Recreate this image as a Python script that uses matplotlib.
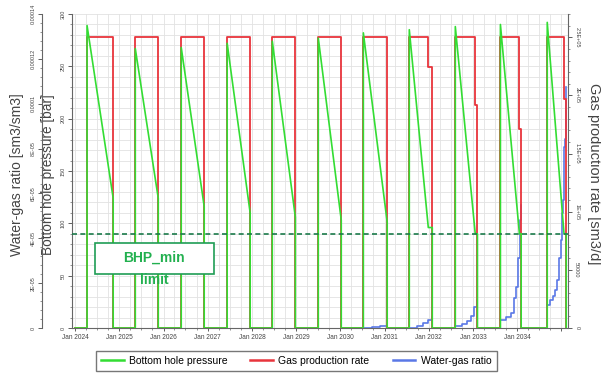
import matplotlib
matplotlib.use("Agg")
import matplotlib.pyplot as plt
import matplotlib.dates as mdates
from matplotlib.ticker import MultipleLocator, FuncFormatter
from matplotlib.patches import Rectangle
from datetime import datetime
import numpy as np

plt.rcParams['font.family'] = ['Liberation Sans', 'DejaVu Sans']

# production cycles (decimal years)
cycle_start = [2024.27, 2025.36, 2026.40, 2027.44, 2028.46, 2029.50, 2030.52, 2031.56, 2032.60, 2033.62, 2034.68]
cycle_end = [2024.86, 2025.88, 2026.92, 2027.96, 2028.98, 2030.02, 2031.06, 2032.08, 2033.10, 2034.09, 2035.11]
bhp_peak = [289, 267, 268, 272, 274, 277, 282, 285, 288, 290, 292]
bhp_end = [124, 124, 116, 110, 106, 103, 101, 96, 90, 90, 90]
rate_plateau = [250000] * 11
step_date = [None, None, None, None, None, None, None, 2031.99, 2033.05, 2034.05, 2035.06]
step_rate = [None, None, None, None, None, None, None, 224000, 192000, 171000, 197000]
bhp_min = 90

# water-gas ratio per cycle
wgr_t = [
    [2030.52, 2030.72, 2030.90, 2031.06],
    [2031.56, 2031.74, 2031.87, 2031.99, 2032.08],
    [2032.60, 2032.76, 2032.87, 2032.96, 2033.03, 2033.10],
    [2033.62, 2033.75, 2033.86, 2033.93, 2033.98, 2034.02, 2034.07, 2034.09],
    [2034.68, 2034.75, 2034.81, 2034.86, 2034.90, 2034.95, 2034.99, 2035.02, 2035.04, 2035.06, 2035.09, 2035.11],
]
wgr_v = [
    [0, 0.3e-6, 0.8e-6, 1.3e-6],
    [0.2e-6, 1.0e-6, 2.2e-6, 3.6e-6, 4.9e-6],
    [0.9e-6, 1.8e-6, 3.1e-6, 5.4e-6, 9.4e-6, 12.5e-6],
    [3.6e-6, 4.9e-6, 6.7e-6, 13.4e-6, 18.3e-6, 31.3e-6, 48.3e-6, 55.0e-6],
    [10.3e-6, 12.5e-6, 14.3e-6, 17.0e-6, 21.5e-6, 31.3e-6, 39.4e-6, 51.4e-6, 57.2e-6, 80.9e-6, 84.1e-6, 107.3e-6],
]
last_labelled_year = 2034


def to_date(y):
    yr = int(y)
    a, b = datetime(yr, 1, 1), datetime(yr + 1, 1, 1)
    return a + (b - a) * (y - yr)


# build step series
t_bhp, v_bhp = [2024.0], [0]
t_rate, v_rate = [2024.0], [0]
for i in range(len(cycle_start)):
    s, e = cycle_start[i], cycle_end[i]
    d = step_date[i] if step_date[i] else e
    r2 = step_rate[i] if step_rate[i] else rate_plateau[i]
    t_bhp += [s, s, d, e, e]
    v_bhp += [0, bhp_peak[i], bhp_end[i], bhp_end[i], 0]
    t_rate += [s, s, d, d, e, e]
    v_rate += [0, rate_plateau[i], rate_plateau[i], r2, r2, 0]

t_w, v_w = [], []
for tt, vv in zip(wgr_t, wgr_v):
    t_w += [to_date(x) for x in tt] + [to_date(tt[-1])]
    v_w += vv + [np.nan]

t_bhp = [to_date(x) for x in t_bhp]
t_rate = [to_date(x) for x in t_rate]

green = '#33dd33'
red = '#e8343c'
blue = '#5a78e6'
spine_c = '#666666'

fig = plt.figure(figsize=(6.01, 3.76), dpi=100)
W, H = 601, 376
ax = fig.add_axes([72 / W, 1 - 328 / H, 496 / W, 314 / H])
ax_w = ax.twinx()
ax_r = ax.twinx()
ax_g = fig.add_axes(ax.get_position(), sharex=ax, sharey=ax)
ax_g.axis('off')

# host (BHP)
ax.set_ylim(0, 300)
ax.set_xlim(to_date(2023.93), to_date(2035.15))
ax.yaxis.set_major_locator(MultipleLocator(50))
ax.yaxis.set_minor_locator(MultipleLocator(10))
ax.xaxis.set_major_locator(mdates.YearLocator())
ax.xaxis.set_minor_locator(mdates.MonthLocator(bymonth=[1, 4, 7, 10]))


def date_fmt(v, pos):
    d = mdates.num2date(v)
    return '' if d.year > last_labelled_year else d.strftime('%b %Y')


ax.xaxis.set_major_formatter(FuncFormatter(date_fmt))
ax.grid(which='both', color='#e2e2e2', lw=0.6)
ax.set_axisbelow(True)
ax.tick_params(axis='y', labelsize=4, rotation=90, length=3, width=0.6, colors='#444444', pad=1.5)
ax.tick_params(axis='y', which='minor', length=1.5, width=0.5, colors=spine_c)
ax.tick_params(axis='x', labelsize=4.7, length=2.5, width=0.6, colors='#444444', pad=2)
ax.tick_params(axis='x', which='minor', length=1.5, width=0.5, colors=spine_c)
for lbl in ax.get_yticklabels():
    lbl.set_va('center')
ax.set_ylabel('Bottom hole pressure [bar]', fontsize=9.8, color='#444444', va='center')
ax.yaxis.set_label_coords(-24 / 496, 0.49)
for sp in ['top', 'right']:
    ax.spines[sp].set_visible(False)
for sp in ['left', 'bottom']:
    ax.spines[sp].set_color(spine_c)
    ax.spines[sp].set_linewidth(0.8)

# WGR axis on the far left
ax_w.set_ylim(0, 0.00014)
ax_w.spines['left'].set_position(('axes', -30 / 496))
ax_w.spines['left'].set_visible(True)
ax_w.spines['left'].set_color(spine_c)
ax_w.spines['left'].set_linewidth(0.8)
for sp in ['top', 'right', 'bottom']:
    ax_w.spines[sp].set_visible(False)
ax_w.yaxis.set_ticks_position('left')
ax_w.yaxis.set_label_position('left')
ax_w.yaxis.set_major_locator(MultipleLocator(2e-5))
ax_w.yaxis.set_minor_locator(MultipleLocator(4e-6))


def wgr_fmt(v, pos):
    if abs(v) < 1e-12:
        return '0'
    if v < 9.99e-5:
        return f'{v:.0E}'
    return f'{v:g}'


ax_w.yaxis.set_major_formatter(FuncFormatter(wgr_fmt))
ax_w.tick_params(axis='y', labelsize=4, rotation=90, length=3, width=0.6, colors='#444444', pad=1.5)
ax_w.tick_params(axis='y', which='minor', length=1.5, width=0.5, colors=spine_c)
for lbl in ax_w.get_yticklabels():
    lbl.set_va('center')
ax_w.set_ylabel('Water-gas ratio [sm3/sm3]', fontsize=10, color='#444444', va='center')
ax_w.yaxis.set_label_coords(-55 / 496, 0.49)

# gas rate axis on the right
ax_r.set_ylim(0, 270000)
ax_r.yaxis.set_major_locator(MultipleLocator(50000))
ax_r.yaxis.set_minor_locator(MultipleLocator(10000))


def rate_fmt(v, pos):
    if v < 1:
        return '0'
    if v < 99999:
        return f'{v:g}'
    m, ex = f'{v:.1E}'.split('E')
    return m.rstrip('0').rstrip('.') + 'E' + ex


ax_r.yaxis.set_major_formatter(FuncFormatter(rate_fmt))
ax_r.tick_params(axis='y', labelsize=4, rotation=270, length=3, width=0.6, colors='#444444', pad=1.5)
ax_r.tick_params(axis='y', which='minor', length=1.5, width=0.5, colors=spine_c)
for lbl in ax_r.get_yticklabels():
    lbl.set_va('center')
ax_r.set_ylabel('Gas production rate [sm3/d]', fontsize=10.5, color='#444444', rotation=270, va='center')
ax_r.yaxis.set_label_coords(1 + 26 / 496, 0.49)
for sp in ['top', 'left', 'bottom']:
    ax_r.spines[sp].set_visible(False)
ax_r.spines['right'].set_color(spine_c)
ax_r.spines['right'].set_linewidth(0.8)

# lines
l_w, = ax_w.plot(t_w, v_w, color=blue, lw=1.2, drawstyle='steps-post')
l_r, = ax_r.plot(t_rate, v_rate, color=red, lw=1.3)
l_g, = ax_g.plot(t_bhp, v_bhp, color=green, lw=1.2)
ax_g.axhline(bhp_min, color='#1b7a4a', lw=1.2, ls=(0, (3, 2)))

# BHP_min annotation
ax_g.add_patch(Rectangle((23 / 496, 54 / 314), 119 / 496, 31 / 314, transform=ax_g.transAxes,
                         facecolor='white', edgecolor='#1f9d55', lw=1.2, zorder=5))
ax_g.text(82 / 496, 70 / 314, 'BHP_min', transform=ax_g.transAxes, ha='center', va='center',
          fontsize=10, fontweight='bold', color='#22b04f', zorder=6)
ax_g.text(82 / 496, 48 / 314, 'limit', transform=ax_g.transAxes, ha='center', va='center',
          fontsize=10, fontweight='bold', color='#22b04f', zorder=6)

leg = fig.legend([l_g, l_r, l_w], ['Bottom hole pressure', 'Gas production rate', 'Water-gas ratio'],
                 loc='center', bbox_to_anchor=(296 / W, 1 - 361 / H), ncol=3, fontsize=7.5,
                 frameon=True, fancybox=False, edgecolor='#555555', handlelength=2.2,
                 columnspacing=2.2, handletextpad=0.5, borderpad=0.5)
leg.get_frame().set_linewidth(1.0)
for ln in leg.get_lines():
    ln.set_linewidth(1.8)

fig.savefig('out.png', dpi=100, facecolor='white')
